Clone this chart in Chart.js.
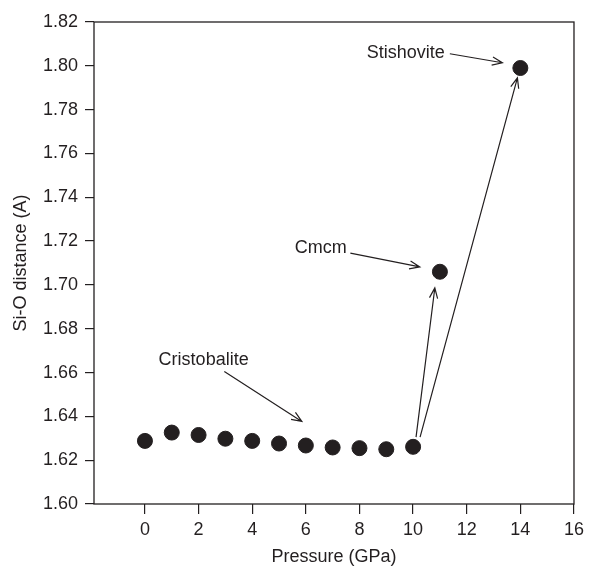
<!DOCTYPE html>
<html>
<head>
<meta charset="utf-8">
<script src="https://cdn.jsdelivr.net/npm/chart.js@4"></script>
<style>
    html, body { margin: 0; padding: 0; background: #fff; }
    #wrap { width: 589px; height: 568px; }
</style>
</head>
<body>
<div id="wrap"><canvas id="chart"></canvas></div>
<script>
// Data
const pressure = [0, 1, 2, 3, 4, 5, 6, 7, 8, 9, 10, 11, 14];
const siODistance = [1.6288, 1.6326, 1.6315, 1.6298, 1.6288, 1.6276, 1.6267, 1.6258, 1.6255, 1.6250, 1.6261, 1.706, 1.799];
const xTicks = [0, 2, 4, 6, 8, 10, 12, 14, 16];
const yTicks = [1.60, 1.62, 1.64, 1.66, 1.68, 1.70, 1.72, 1.74, 1.76, 1.78, 1.80, 1.82];

// Phase labels (data coordinates)
const labelTexts = ['Stishovite', 'Cmcm', 'Cristobalite'];
const labelX = [11.18, 5.59, 0.51];
const labelY = [1.8059, 1.7168, 1.6659];
const labelAlign = ['right', 'left', 'left'];

// Arrows: from (x0, y0) to (x1, y1), data coordinates
const arrowX0 = [11.37, 7.66, 2.96, 10.11, 10.26];
const arrowY0 = [1.8055, 1.7145, 1.6605, 1.6305, 1.6305];
const arrowX1 = [13.33, 10.25, 5.85, 10.81, 13.89];
const arrowY1 = [1.8014, 1.7082, 1.6377, 1.6986, 1.7945];

const ink = '#231f20';
const fontFamily = '"Liberation Sans", Arial, Helvetica, sans-serif';

const points = pressure.map((p, i) => ({ x: p, y: siODistance[i] }));

// Frame around the plot area, labels and arrows
const decorations = {
    id: 'decorations',
    afterDraw(chart) {
        const ctx = chart.ctx;
        const area = chart.chartArea;
        const xs = chart.scales.x;
        const ys = chart.scales.y;
        ctx.save();
        ctx.strokeStyle = ink;
        ctx.lineWidth = 1.3;
        ctx.strokeRect(area.left, area.top, area.right - area.left, area.bottom - area.top);

        ctx.fillStyle = ink;
        ctx.font = '18px ' + fontFamily;
        ctx.textBaseline = 'middle';
        for (let i = 0; i < labelTexts.length; i++) {
            ctx.textAlign = labelAlign[i];
            ctx.fillText(labelTexts[i], xs.getPixelForValue(labelX[i]), ys.getPixelForValue(labelY[i]));
        }

        ctx.lineWidth = 1.2;
        for (let i = 0; i < arrowX0.length; i++) {
            const x0 = xs.getPixelForValue(arrowX0[i]);
            const y0 = ys.getPixelForValue(arrowY0[i]);
            const x1 = xs.getPixelForValue(arrowX1[i]);
            const y1 = ys.getPixelForValue(arrowY1[i]);
            const ang = Math.atan2(y1 - y0, x1 - x0);
            const head = 11;
            const spread = 0.38;
            ctx.beginPath();
            ctx.moveTo(x0, y0);
            ctx.lineTo(x1, y1);
            ctx.moveTo(x1 - head * Math.cos(ang - spread), y1 - head * Math.sin(ang - spread));
            ctx.lineTo(x1, y1);
            ctx.lineTo(x1 - head * Math.cos(ang + spread), y1 - head * Math.sin(ang + spread));
            ctx.stroke();
        }
        ctx.restore();
    }
};

Chart.defaults.font.family = fontFamily;
Chart.defaults.color = ink;

new Chart(document.getElementById('chart').getContext('2d'), {
    type: 'scatter',
    data: {
        datasets: [{
            data: points,
            backgroundColor: ink,
            borderColor: ink,
            pointRadius: 7.5,
            pointHoverRadius: 7.5,
        }],
    },
    options: {
        responsive: true,
        maintainAspectRatio: false,
        animation: false,
        layout: {
            padding: { top: 22, right: 12, left: 0, bottom: 0 }
        },
        plugins: {
            legend: { display: false },
            tooltip: { enabled: false },
        },
        scales: {
            x: {
                type: 'linear',
                min: -1.9,
                max: 16,
                afterBuildTicks: (scale) => {
                    scale.ticks = xTicks.map(v => ({ value: v }));
                },
                afterFit: (scale) => {
                    scale.height = 64;
                },
                ticks: {
                    font: { size: 18 },
                    color: ink,
                    padding: 5,
                    maxRotation: 0,
                },
                grid: {
                    drawOnChartArea: false,
                    drawTicks: true,
                    tickLength: 10,
                    color: ink,
                    lineWidth: 1.2,
                },
                border: { display: false },
                title: {
                    display: true,
                    text: 'Pressure (GPa)',
                    font: { size: 18 },
                    color: ink,
                    padding: { top: 0, bottom: 0 },
                },
            },
            y: {
                type: 'linear',
                min: 1.60,
                max: 1.82,
                afterBuildTicks: (scale) => {
                    scale.ticks = yTicks.map(v => ({ value: v }));
                },
                afterFit: (scale) => {
                    scale.width = 94;
                },
                ticks: {
                    font: { size: 18 },
                    color: ink,
                    padding: 7,
                    callback: (v) => Number(v).toFixed(2),
                },
                grid: {
                    drawOnChartArea: false,
                    drawTicks: true,
                    tickLength: 9,
                    color: ink,
                    lineWidth: 1.2,
                },
                border: { display: false },
                title: {
                    display: true,
                    text: 'Si-O distance (A)',
                    font: { size: 18 },
                    color: ink,
                    padding: { top: 10, bottom: 0 },
                },
            },
        },
    },
    plugins: [decorations],
});
</script>
</body>
</html>
